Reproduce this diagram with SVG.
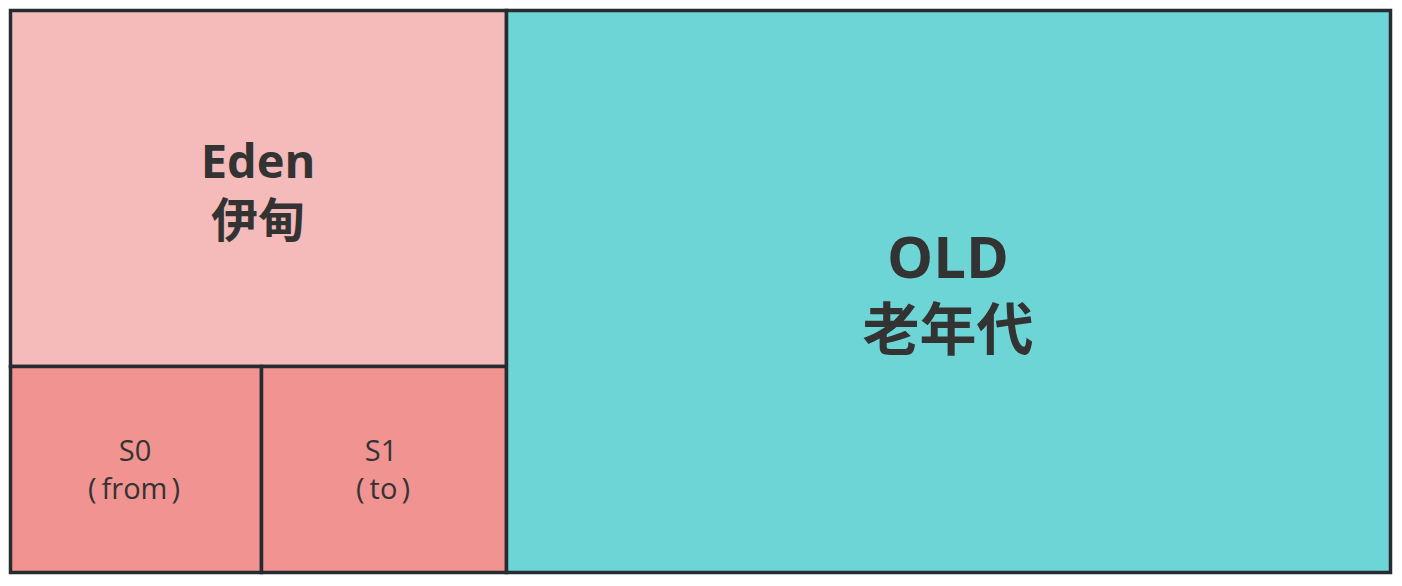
<svg xmlns="http://www.w3.org/2000/svg" width="1402" height="586" viewBox="0 0 1402 586">
<style>
.box{stroke:#262b30;stroke-width:3.5}
.t{font-family:"Open Sans","Noto Sans CJK SC",sans-serif;fill:#333333;text-anchor:middle}
.b{font-weight:bold}
</style>
<rect width="1402" height="586" fill="#ffffff"/>
<g id="eden">
<rect class="box" x="10.5" y="10.5" width="496" height="356" fill="#F5BBBA"/>
<text class="t b" x="258" y="178" font-size="47">Eden</text>
<text class="t b" x="258" y="237" font-size="47">伊甸</text>
</g>
<g id="s0">
<rect class="box" x="10.5" y="366.5" width="251" height="206" fill="#F09391"/>
<text class="t" x="135" y="461" font-size="29">S0</text>
<text class="t" x="134" y="499" font-size="29">(<tspan dx="5">from</tspan><tspan dx="4">)</tspan></text>
</g>
<g id="s1">
<rect class="box" x="261.5" y="366.5" width="245" height="206" fill="#F09391"/>
<text class="t" x="381" y="461" font-size="29">S1</text>
<text class="t" x="383" y="499" font-size="29">(<tspan dx="5">to</tspan><tspan dx="4">)</tspan></text>
</g>
<g id="old">
<rect class="box" x="506.5" y="10.5" width="884" height="562" fill="#6ED5D6"/>
<text class="t b" x="948" y="278" font-size="58">OLD</text>
<text class="t b" x="948" y="350" font-size="57">老年代</text>
</g>
<g id="connectors"></g>
</svg>
